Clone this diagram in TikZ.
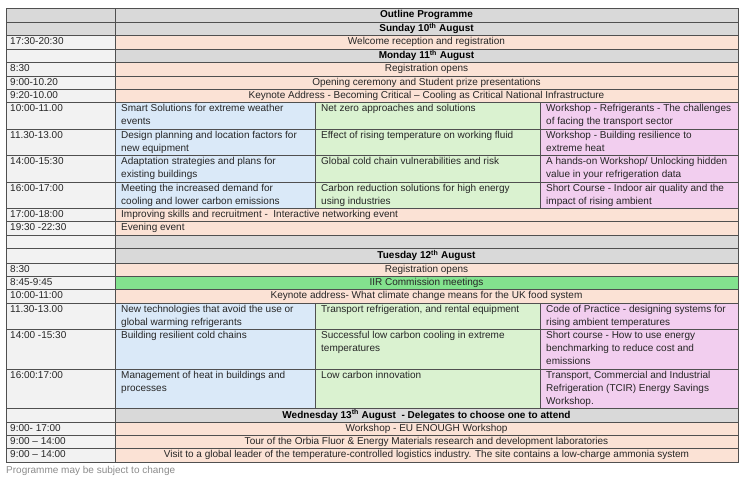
\documentclass[tikz,border=0pt]{standalone}
\usepackage{fontspec}
\setmainfont{Liberation Sans}
\usepackage{tikz}

\definecolor{headgrey}{HTML}{D9D9D9}
\definecolor{timecol}{HTML}{F2F2F2}
\definecolor{peach}{HTML}{FBE2D5}
\definecolor{paleblue}{HTML}{DAE9F8}
\definecolor{palegreen}{HTML}{DAF2D0}
\definecolor{palepink}{HTML}{F2CEEF}
\definecolor{brightgreen}{HTML}{83E28E}
\definecolor{gridline}{HTML}{505050}
\definecolor{inktext}{HTML}{262626}
\definecolor{notegrey}{HTML}{8C8C8C}

\tikzset{
  grid/.style={draw=gridline,line width=0.6pt},
  cell/.style={font=\fontsize{10}{13}\selectfont,text=inktext,inner sep=0pt,anchor=north west,align=left},
  spantext/.style={font=\fontsize{10}{13}\selectfont,text=inktext,inner sep=0pt},
  headtext/.style={spantext,font=\fontsize{10}{13}\selectfont\bfseries,text=black}
}

% one row spanning columns 2-4
\newcommand\spanrow[6]{%
  \path[grid,fill=timecol] (6,#2) rectangle (115,#3);
  \path[grid,fill=#4] (115,#2) rectangle (738,#3);
  \node[cell] (#1t) at (10,#2+2.5) {#5};
  \node[spantext] (#1) at (426.5,{(#2+#3)/2}) {#6};}
% row with text left in the span
\newcommand\leftrow[5]{%
  \path[grid,fill=timecol] (6,#2) rectangle (115,#3);
  \path[grid,fill=#4] (115,#2) rectangle (738,#3);
  \node[cell] (#1t) at (10,#2+2.5) {#5};
  \node[cell] (#1) at (121,#2+2.5) {\strut};}
% row with three parallel sessions
\newcommand\threerow[6]{%
  \path[grid,fill=timecol] (6,#2) rectangle (115,#3);
  \path[grid,fill=paleblue] (115,#2) rectangle (315,#3);
  \path[grid,fill=palegreen] (315,#2) rectangle (540,#3);
  \path[grid,fill=palepink] (540,#2) rectangle (738,#3);
  \node[cell] (#1t) at (10,#2+2.5) {#4};
  \node[cell] (#1a) at (121,#2+2.5) {#5};
  \node[cell] (#1b) at (321,#2+2.5) {#6};}
% day header row
\newcommand\dayrow[5]{%
  \path[grid,fill=#4] (6,#2) rectangle (115,#3);
  \path[grid,fill=headgrey] (115,#2) rectangle (738,#3);
  \node[headtext] (#1) at (426.5,{(#2+#3)/2}) {#5};}

\begin{document}
\begin{tikzpicture}[x=1pt,y=-1pt]
  \useasboundingbox[fill=white] (0,0) rectangle (747,486);
  \dayrow{outline}{8}{22}{headgrey}{Outline Programme}
  \dayrow{sunday}{22}{35}{headgrey}{Sunday 10\textsuperscript{th} August}
  \spanrow{welcome}{35}{49}{peach}{17:30-20:30}{Welcome reception and registration}
  \dayrow{monday}{49}{62}{timecol}{Monday 11\textsuperscript{th} August}
  \spanrow{regmon}{62}{76}{peach}{8:30}{Registration opens}
  \spanrow{opening}{76}{89}{peach}{9:00-10.20}{Opening ceremony and Student prize presentations}
  \spanrow{keymon}{89}{102}{peach}{9:20-10.00}{Keynote Address - Becoming Critical -- Cooling as Critical National Infrastructure}
  \threerow{mona}{102}{129}{10:00-11.00}{Smart Solutions for extreme weather\\events}{Net zero approaches and solutions}
  \node[cell] (monac) at (546,104.5) {Workshop - Refrigerants - The challenges\\of facing the transport sector};
  \threerow{monb}{129}{155}{11.30-13.00}{Design planning and location factors for\\new equipment}{Effect of rising temperature on working fluid}
  \node[cell] (monbc) at (546,131.5) {Workshop - Building resilience to\\extreme heat};
  \threerow{monc}{155}{182}{14:00-15:30}{Adaptation strategies and plans for\\existing buildings}{Global cold chain vulnerabilities and risk}
  \node[cell] (moncc) at (546,157.5) {A hands-on Workshop/ Unlocking hidden\\value in your refrigeration data};
  \threerow{mond}{182}{208}{16:00-17:00}{Meeting the increased demand for\\cooling and lower carbon emissions}{Carbon reduction solutions for high energy\\using industries}
  \node[cell] (mondc) at (546,184.5) {Short Course - Indoor air quality and the\\impact of rising ambient};
  \leftrow{skills}{208}{221}{peach}{17:00-18:00}
  \node[cell] at (121,210.5) {Improving skills and recruitment - \ Interactive networking event};
  \leftrow{evening}{221}{235}{peach}{19:30 -22:30}
  \node[cell] at (121,223.5) {Evening event};
  \dayrow{blank}{235}{248}{timecol}{}
  \dayrow{tuesday}{248}{263}{timecol}{Tuesday 12\textsuperscript{th} August}
  \spanrow{regtue}{263}{276}{peach}{8:30}{Registration opens}
  \spanrow{iir}{276}{289}{brightgreen}{8:45-9:45}{IIR\ Commission meetings}
  \spanrow{keytue}{289}{303}{peach}{10:00-11:00}{Keynote address- What climate change means for the UK food system}
  \threerow{tuea}{303}{329}{11.30-13.00}{New technologies that avoid the use or\\global warming refrigerants}{Transport refrigeration, and rental equipment}
  \node[cell] (tueac) at (546,305.5) {Code of Practice - designing systems for\\rising ambient temperatures};
  \threerow{tueb}{329}{369}{14:00 -15:30}{Building resilient cold chains}{Successful low carbon cooling in extreme\\temperatures}
  \node[cell] (tuebc) at (546,331.5) {Short course - How to use energy\\benchmarking to reduce cost and\\emissions};
  \threerow{tuec}{369}{408}{16:00:17:00}{Management of heat in buildings and\\processes}{Low carbon innovation}
  \node[cell] (tuecc) at (546,371.5) {Transport, Commercial and Industrial\\Refrigeration (TCIR) Energy Savings\\Workshop.};
  \dayrow{wednesday}{408}{422}{timecol}{Wednesday 13\textsuperscript{th} August\ \ - Delegates to choose one to attend}
  \spanrow{enough}{422}{435}{peach}{9:00- 17:00}{Workshop - EU ENOUGH Workshop}
  \spanrow{orbia}{435}{448}{peach}{9:00 -- 14:00}{Tour of the Orbia Fluor \& Energy Materials research and development laboratories}
  \spanrow{visit}{448}{462}{peach}{9:00 -- 14:00}{Visit to a global leader of the temperature-controlled logistics industry. The site contains a low-charge ammonia system}
  \node[cell,text=notegrey] (note) at (6,466) {Programme may be subject to change};
\end{tikzpicture}
\end{document}
